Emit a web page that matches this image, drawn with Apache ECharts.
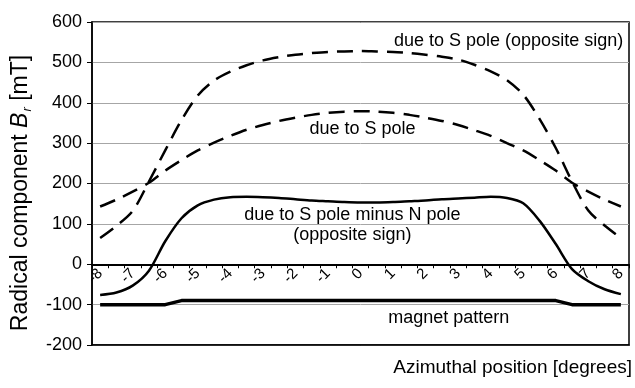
<!DOCTYPE html>
<html>
<head>
<meta charset="utf-8">
<script src="https://cdn.jsdelivr.net/npm/echarts@6/dist/echarts.min.js"></script>
<style>
html,body{margin:0;padding:0;background:#fff;}
#chart{width:635px;height:388px;}
</style>
</head>
<body>
<div id="chart"></div>
<script>
// Azimuthal positions (degrees), half-degree steps
var positions = [-8,-7.5,-7,-6.5,-6,-5.5,-5,-4.5,-4,-3.5,-3,-2.5,-2,-1.5,-1,-0.5,0,0.5,1,1.5,2,2.5,3,3.5,4,4.5,5,5.5,6,6.5,7,7.5,8];
// due to S pole (opposite sign)
var sPoleOpposite = [65,95,132,205,282,357,418,455,477,493,505,513,519,523,526,527,528,527,526,523,519,514,507,494,478,456,420,360,288,205,133,96,65];
// due to S pole
var sPole = [143,160,180,202,232,258,282,301,318,333,345,355,363,370,375,378,379,378,375,370,363,355,345,332,318,300,282,258,232,202,180,160,143];
// due to S pole minus N pole (opposite sign)
var sMinusN = [-76,-70,-53,-16,57,114,146,160,166,167,166,164,161,158,156,154,153,153,154,156,158,161,163,165,167,164,151,108,50,-12,-42,-62,-74];
// magnet pattern
var magnet = [-100,-100,-100,-100,-100,-90,-90,-90,-90,-90,-90,-90,-90,-90,-90,-90,-90,-90,-90,-90,-90,-90,-90,-90,-90,-90,-90,-90,-90,-100,-100,-100,-100];
// y axis ticks
var yMin = -200, yMax = 600, yStep = 100;
// annotations: [text, degree, value]
var notes = [
  ['due to S pole (opposite sign)', 4.55, 553],
  ['due to S pole', 0.06, 336],
  ['due to S pole minus N pole', -0.25, 122],
  ['(opposite sign)', -0.25, 72],
  ['magnet pattern', 2.71, -133]
];

var FONT = 'Liberation Sans, Arial, sans-serif';
var GRID = {left: 92, right: 6, top: 22, bottom: 43};
var plotH = 388 - GRID.top - GRID.bottom;
var zeroOffset = -(0 - yMin) / (yMax - yMin) * plotH;
var chart = echarts.init(document.getElementById('chart'));
var dashed = [16, 9];
chart.setOption({
  animation: false,
  backgroundColor: '#fff',
  grid: {left: GRID.left, right: GRID.right, top: GRID.top, bottom: GRID.bottom, show: true, borderColor: '#000', borderWidth: 1.5},
  xAxis: [{
    type: 'category',
    position: 'bottom',
    offset: zeroOffset,
    data: positions.map(String),
    boundaryGap: true,
    axisLine: {onZero: false, lineStyle: {color: '#000', width: 2}},
    axisTick: {show: true, interval: 0, length: 4, lineStyle: {color: '#000', width: 1}},
    axisLabel: {interval: 1, rotate: 45, fontSize: 15, color: '#000', fontFamily: FONT, margin: 7},
    splitLine: {show: false},
    z: 5
  }, {
    type: 'category',
    position: 'bottom',
    data: positions.map(String),
    boundaryGap: true,
    axisLine: {show: true, onZero: false, lineStyle: {color: '#000', width: 1.5}},
    axisTick: {show: false},
    axisLabel: {show: false},
    splitLine: {show: false}
  }],
  yAxis: {
    type: 'value', min: yMin, max: yMax, interval: yStep,
    axisLine: {show: true, onZero: false, lineStyle: {color: '#000', width: 1.5}},
    axisTick: {show: true, length: 5, lineStyle: {color: '#000'}},
    axisLabel: {fontSize: 18, color: '#000', fontFamily: FONT, margin: 10},
    splitLine: {show: true, lineStyle: {color: '#a6a6a6', width: 1}}
  },
  series: [
    {type: 'line', data: magnet, showSymbol: false, smooth: false,
     lineStyle: {color: '#000', width: 3.5}, z: 3},
    {type: 'line', data: sMinusN, showSymbol: false, smooth: 0.3,
     lineStyle: {color: '#000', width: 2.5}, z: 3},
    {type: 'line', data: sPoleOpposite, showSymbol: false, smooth: 0.3,
     lineStyle: {color: '#000', width: 2.5, type: dashed}, z: 3},
    {type: 'line', data: sPole, showSymbol: false, smooth: 0.3,
     lineStyle: {color: '#000', width: 2.5, type: dashed}, z: 3}
  ]
});

var px0 = chart.convertToPixel({xAxisIndex: 0}, 0);
var pxN = chart.convertToPixel({xAxisIndex: 0}, positions.length - 1);
function xOf(deg) {
  return px0 + (deg - positions[0]) / (positions[positions.length - 1] - positions[0]) * (pxN - px0);
}
var graphics = notes.map(function (n) {
  return {
    type: 'text', x: xOf(n[1]), y: chart.convertToPixel({yAxisIndex: 0}, n[2]), z: 10,
    style: {text: n[0], fontSize: 18, fontFamily: FONT, fill: '#000', align: 'center', verticalAlign: 'middle'}
  };
});
graphics.push({
  type: 'text', x: 632, y: 368, z: 10,
  style: {text: 'Azimuthal position [degrees]', fontSize: 19, fontFamily: FONT, fill: '#000', align: 'right', verticalAlign: 'middle'}
});
graphics.push({
  type: 'text', x: 21, y: 193, rotation: Math.PI / 2, z: 10,
  style: {
    text: '{a|Radical component }{b|B}{c|r}{a| [mT]}',
    fontFamily: FONT, fill: '#000', align: 'center', verticalAlign: 'middle',
    rich: {
      a: {fontSize: 23, fontFamily: FONT, fill: '#000'},
      b: {fontSize: 23, fontFamily: FONT, fontStyle: 'italic', fill: '#000'},
      c: {fontSize: 13, fontFamily: FONT, fontStyle: 'italic', fill: '#000', padding: [12, 0, 0, 1]}
    }
  }
});
chart.setOption({graphic: graphics});
</script>
</body>
</html>
